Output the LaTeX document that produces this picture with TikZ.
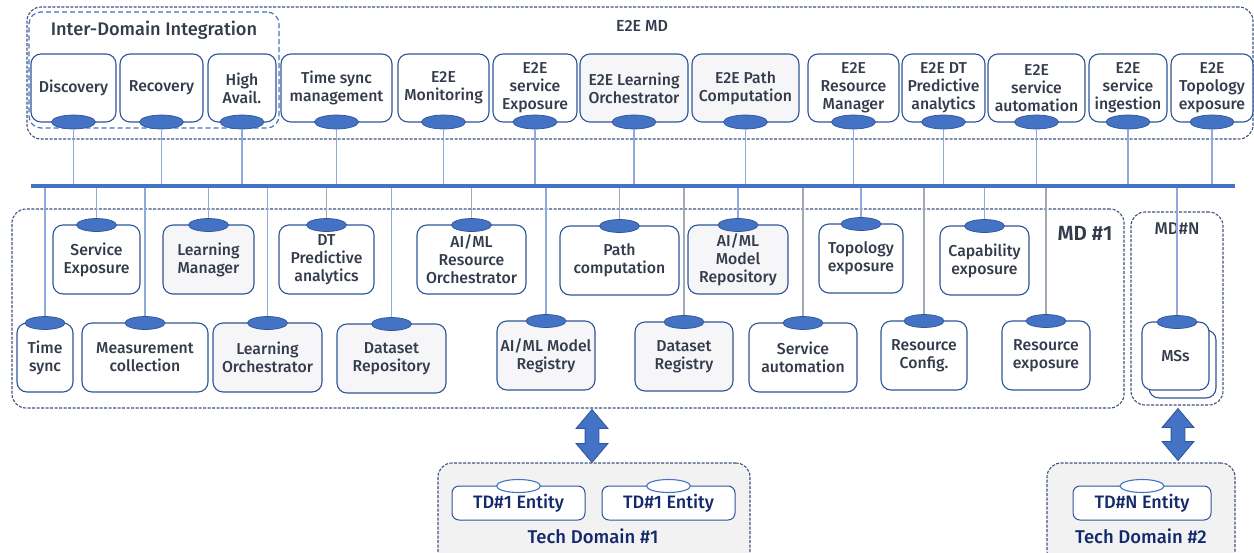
\documentclass[tikz,border=0pt]{standalone}
\usepackage{fontspec}
\IfFontExistsTF{Fira Sans Medium}{%
  \IfFontExistsTF{Fira Sans SemiBold}{\setmainfont{Fira Sans Medium}[BoldFont={Fira Sans SemiBold}]}{\setmainfont{Fira Sans Medium}}}%
  {\setmainfont{Fira Sans}}
\usetikzlibrary{shapes.geometric,shapes.arrows}
\definecolor{bord}{HTML}{2F5597}
\definecolor{portc}{HTML}{4472C4}
\definecolor{txt}{HTML}{343C4C}
\definecolor{navy}{HTML}{13296B}
\definecolor{boxg}{HTML}{F6F6F8}
\definecolor{linkc}{HTML}{8FAADC}
\definecolor{linkg}{HTML}{A3A9B4}
\definecolor{contc}{HTML}{3E5280}
\definecolor{tdfill}{HTML}{F2F2F2}
\newcommand\topbox[5]{%
  \node[#4, minimum width=#3pt, minimum height=68pt] (#1) at (#2,88) {#5};
  \node[port] (#1p) at (#2,122) {};
  \draw[link] (#1p.south) -- (#1p.south |- busL);}
\newcommand\lowbox[7]{%
  \node[#5, minimum width=#4pt, minimum height=69pt] (#1) at (#2,#3+34.5) {#6};
  \node[lport] (#1p) at (#2,#3) {};
  \draw[#7] (#1p.north |- busL) -- (#1p.north);}
\begin{document}
\begin{tikzpicture}[x=1pt,y=-1pt,
  box/.style={draw=bord, line width=1.1pt, rounded corners=10pt, fill=white, text=txt, align=center,
    font=\fontsize{15.8}{18}\selectfont, inner sep=1pt},
  gbox/.style={box, fill=boxg},
  port/.style={ellipse, draw=bord, line width=0.7pt, fill=portc, minimum width=44pt, minimum height=14pt, inner sep=0pt},
  lport/.style={port, minimum width=40pt, minimum height=13pt},
  link/.style={draw=linkc, line width=1.1pt},
  linkgr/.style={draw=linkg, line width=1.1pt},
  cont/.style={draw=contc, line width=1.1pt, dash pattern=on 3pt off 1.5pt, rounded corners=14pt, inner sep=0pt},
  idicont/.style={draw=portc, line width=1.2pt, dash pattern=on 5pt off 3pt, rounded corners=12pt, inner sep=0pt},
  tdcont/.style={cont, fill=tdfill},
  entity/.style={draw=bord, line width=1pt, rounded corners=7pt, fill=white, text=navy,
    font=\fontsize{18}{20}\selectfont, minimum height=34pt, inner sep=1pt},
  eport/.style={ellipse, draw=portc, line width=1.1pt, fill=white, minimum width=44pt, minimum height=13pt, inner sep=0pt},
  barrow/.style={double arrow, draw=bord, line width=0.8pt, fill=portc, inner sep=6.5pt,
    double arrow head extend=9pt, double arrow tip angle=80, rotate=90},
  bus/.style={draw=portc, line width=4pt}
]
\useasboundingbox (0,0) rectangle (1254,552);
% containers
\node[cont, minimum width=1226pt, minimum height=132pt] (e2e) at (640,73) {};
\node[idicont, minimum width=250pt, minimum height=116pt] (idi) at (154,70) {};
\node[cont, minimum width=1112pt, minimum height=199pt] (md1) at (568,308.5) {};
\node[cont, minimum width=92pt, minimum height=193pt] (mdn) at (1177,308.5) {};
\node[tdcont, minimum width=312pt, minimum height=102pt] (td1) at (594,514) {};
\node[tdcont, minimum width=188pt, minimum height=102pt] (td2) at (1141,514) {};
% labels
\node[text=txt, font=\fontsize{16}{18}\selectfont] (e2elbl) at (642,26) {E2E MD};
\node[text=txt, font=\fontsize{18.2}{20}\selectfont] (idilbl) at (154,30) {Inter-Domain Integration};
\node[text=txt, font=\fontsize{20.5}{22}\selectfont\bfseries] (md1lbl) at (1085,233) {MD \#1};
\node[text=txt, font=\fontsize{17}{18}\selectfont] (mdnlbl) at (1177,229) {MD\#N};
% bus coordinates
\coordinate (busL) at (31,186);
\coordinate (busR) at (1235,186);
% top row
\topbox{disc}{73.5}{85}{box}{Discovery}
\topbox{rec}{161.5}{83}{box}{Recovery}
\topbox{ha}{242}{68}{box}{High\\Avail.}
\topbox{tsm}{336.5}{111}{box}{Time sync\\management}
\topbox{mon}{443.5}{91}{box}{E2E\\Monitoring}
\topbox{sexp}{535}{84}{box}{E2E\\service\\Exposure}
\topbox{lorch}{634}{108}{gbox}{E2E Learning\\Orchestrator}
\topbox{path}{745.5}{107}{gbox}{E2E Path\\Computation}
\topbox{rm}{853.5}{91}{box}{E2E\\Resource\\Manager}
\topbox{dt}{943.5}{83}{box}{E2E DT\\Predictive\\analytics}
\topbox{sa}{1036.5}{97}{box}{E2E\\service\\automation}
\topbox{si}{1128}{78}{box}{E2E\\service\\ingestion}
\topbox{topo}{1212}{82}{box}{E2E\\Topology\\exposure}
% lower row 1
\lowbox{se}{96.5}{225}{87}{box}{Service\\Exposure}{link}
\lowbox{lm}{208.5}{225}{91}{gbox}{Learning\\Manager}{link}
\lowbox{dtp}{326.5}{225}{95}{box}{DT\\Predictive\\analytics}{linkgr}
\lowbox{aro}{471.5}{225}{109}{box}{AI/ML\\Resource\\Orchestrator}{linkgr}
\lowbox{pc}{619.5}{226}{119}{box}{Path\\computation}{linkgr}
\lowbox{amr}{738}{225}{100}{gbox}{AI/ML\\Model\\Repository}{link}
\lowbox{tex}{861}{224}{84}{box}{Topology\\exposure}{link}
\lowbox{cex}{984.5}{226}{89}{box}{Capability\\exposure}{link}
% lower row 2
\lowbox{ts}{45}{323}{56}{box}{Time\\sync}{link}
\lowbox{mc}{145}{323}{126}{box}{Measurement\\collection}{link}
\lowbox{lo}{267.5}{323}{109}{gbox}{Learning\\Orchestrator}{link}
\lowbox{dr}{391.5}{324}{109}{gbox}{Dataset\\Repository}{link}
\lowbox{amreg}{546}{321}{98}{gbox}{AI/ML Model\\Registry}{link}
\lowbox{dreg}{684}{322}{98}{gbox}{Dataset\\Registry}{linkgr}
\lowbox{sau}{803}{323}{108}{box}{Service\\automation}{linkgr}
\lowbox{rc}{924}{321}{86}{box}{Resource\\Config.}{linkgr}
\lowbox{rex}{1046}{321}{88}{box}{Resource\\exposure}{linkgr}
% MSs stacked
\node[box, minimum width=67pt, minimum height=68pt] (msb) at (1182.5,364) {};
\node[box, minimum width=67pt, minimum height=68pt] (ms) at (1175.5,356) {MSs};
\node[lport] (msp) at (1177,322) {};
\draw[link] (msp.north |- busL) -- (msp.north);
% bus
\draw[bus] (busL) -- (busR);
% tech domains
\node[entity, minimum width=133pt] (e1a) at (518.5,503) {TD\#1 Entity};
\node[eport] (e1ap) at (518.5,486) {};
\node[entity, minimum width=133pt] (e1b) at (668.5,503) {TD\#1 Entity};
\node[eport] (e1bp) at (668.5,486) {};
\node[entity, minimum width=138pt] (en) at (1142,503) {TD\#N Entity};
\node[eport] (enp) at (1142,486) {};
\node[text=navy, font=\fontsize{18.5}{20}\selectfont] (td1lbl) at (593,536) {Tech Domain \#1};
\node[text=navy, font=\fontsize{18.5}{20}\selectfont] (td2lbl) at (1141,536) {Tech Domain \#2};
% double arrows
\node[barrow, minimum height=53pt] (a1) at (592,436) {};
\node[barrow, minimum height=52pt] (a2) at (1178,434.5) {};
\end{tikzpicture}
\end{document}
